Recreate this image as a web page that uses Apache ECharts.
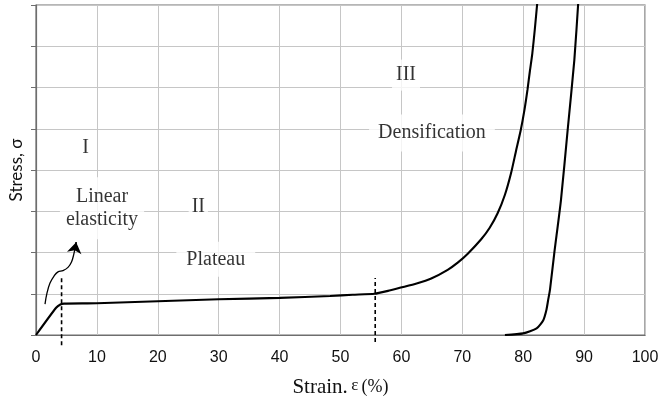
<!DOCTYPE html>
<html>
<head>
<meta charset="utf-8">
<script src="https://cdn.jsdelivr.net/npm/echarts@6/dist/echarts.min.js"></script>
<style>
html,body{margin:0;padding:0;background:#fff;}
#chart{width:662px;height:403px;}
</style>
</head>
<body>
<div id="chart"></div>
<script>
// Strain (%) ticks
const xTicks = [0, 10, 20, 30, 40, 50, 60, 70, 80, 90, 100];
// Loading curve: strain (%), stress (grid units)
const loadStrain = [0, 3.3, 4.0, 4.6, 10, 20, 30, 40, 48.3, 52, 55.6, 57.8, 59.9, 62.5, 64.9, 67.6, 69.3, 70.9, 73.1, 74.5, 75.8, 77.0, 78.0, 78.8, 79.6, 80.2, 80.7, 81.1, 81.5, 81.9, 82.4];
const loadStress = [0, 0.66, 0.74, 0.76, 0.77, 0.82, 0.865, 0.90, 0.945, 0.975, 1.0, 1.07, 1.15, 1.25, 1.37, 1.58, 1.76, 1.97, 2.32, 2.6, 2.95, 3.4, 3.92, 4.45, 4.97, 5.45, 5.94, 6.4, 6.83, 7.4, 8.2];
// Second (dense) curve
const denseStrain = [77.0, 80.0, 82.2, 83.3, 83.8, 84.1, 84.4, 85.1, 86.2, 87.3, 88.4, 89.1];
const denseStress = [0, 0.04, 0.16, 0.36, 0.6, 0.85, 1.1, 1.98, 3.27, 4.97, 6.67, 8.2];
// Region boundaries (dashed)
const boundaryStrain = [4.2, 55.7];
const boundaryLow = [-0.25, -0.17];
const boundaryHigh = [1.45, 1.38];
// Arrow path
const arrowStrain = [1.48, 1.81, 2.30, 2.96, 3.61, 4.43, 5.25, 5.83, 6.21, 6.45, 6.60];
const arrowStress = [0.75, 1.02, 1.26, 1.43, 1.53, 1.56, 1.64, 1.77, 1.96, 2.13, 2.25];
// Annotations
const annText = ['I', 'Linear\nelasticity', 'II', 'Plateau', 'III', 'Densification'];
const annStrain = [8.16, 10.84, 26.65, 29.52, 60.76, 65.02];
const annStress = [4.53, 3.07, 3.10, 1.835, 6.30, 4.90];

const annPadding = [[2,3],[8,6],[3,3],[6,10],[4,4],[7,9]];
const zip = (a, b) => a.map((v, i) => [v, b[i]]);

const chart = echarts.init(document.getElementById('chart'));
const serif = '"Liberation Serif", "DejaVu Serif", serif';
const nArrow = arrowStrain.length;
const series = [
  {
    type: 'scatter',
    data: annText.map((t, i) => ({
      value: [annStrain[i], annStress[i]],
      label: { padding: annPadding[i] }
    })),
    symbol: 'circle', symbolSize: 1,
    itemStyle: { color: 'rgba(0,0,0,0)' },
    z: 3,
    label: {
      show: true, position: 'inside',
      formatter: p => annText[p.dataIndex],
      fontFamily: serif, fontSize: 20, color: '#000',
      lineHeight: 23, align: 'center', verticalAlign: 'middle',
      backgroundColor: '#fff'
    },
    silent: true
  },
  {
    type: 'line', data: zip(loadStrain, loadStress), smooth: 0.2,
    showSymbol: false, lineStyle: { color: '#000', width: 2.1 }, z: 5
  },
  {
    type: 'line', data: zip(denseStrain, denseStress), smooth: 0.2,
    showSymbol: false, lineStyle: { color: '#000', width: 2.1 }, z: 5
  },
  {
    type: 'line', data: zip(arrowStrain, arrowStress), smooth: 0.4,
    showSymbol: false, lineStyle: { color: '#000', width: 1.3 }, z: 5
  },
  {
    type: 'lines', coordinateSystem: 'cartesian2d',
    data: [{ coords: [[arrowStrain[nArrow - 2], arrowStress[nArrow - 2]], [arrowStrain[nArrow - 1], arrowStress[nArrow - 1]]] }],
    symbol: ['none', 'arrow'], symbolSize: [8, 11],
    lineStyle: { color: '#000', width: 1.3, opacity: 1, curveness: 0 }, z: 5
  }
];
boundaryStrain.forEach((s, i) => {
  series.push({
    type: 'line', data: [[s, boundaryLow[i]], [s, boundaryHigh[i]]],
    showSymbol: false, clip: false,
    lineStyle: { color: '#000', width: 1.6, type: [4, 3] }, z: 6
  });
});

chart.setOption({
  animation: false,
  backgroundColor: '#fff',
  grid: { left: 36, right: 17, top: 5, bottom: 68, show: true, borderColor: '#6e6e6e', borderWidth: 1.2 },
  xAxis: {
    type: 'value', min: 0, max: 100, interval: 10,
    axisLine: { show: true, lineStyle: { color: '#6e6e6e', width: 1.2 } },
    axisTick: { show: false },
    splitLine: { show: true, lineStyle: { color: '#c6c6c6', width: 1 } },
    axisLabel: {
      fontFamily: '"Liberation Sans", Arial, sans-serif', fontSize: 16, color: '#111', margin: 15,
      formatter: v => xTicks.includes(v) ? String(v) : ''
    },
    name: '{a|Strain.} {b|ε} {c|(%)}',
    nameLocation: 'middle', nameGap: 42,
    nameTextStyle: {
      rich: {
        a: { fontFamily: serif, fontSize: 21, color: '#111' },
        b: { fontFamily: serif, fontSize: 17, color: '#111', verticalAlign: 'top', padding: [0,0,4,0] },
        c: { fontFamily: serif, fontSize: 18, color: '#111' }
      }
    }
  },
  yAxis: {
    type: 'value', min: 0, max: 8, interval: 1,
    axisLine: { show: true, lineStyle: { color: '#6e6e6e', width: 1.2 } },
    axisTick: { show: true, inside: false, length: 5, lineStyle: { color: '#6e6e6e' } },
    splitLine: { show: true, lineStyle: { color: '#c6c6c6', width: 1 } },
    axisLabel: { show: false },
    name: 'Stress, σ', nameLocation: 'middle', nameGap: 11,
    nameTextStyle: { fontFamily: 'Lato, "Open Sans", sans-serif', fontSize: 17, color: '#111' }
  },
  series: series
});
</script>
</body>
</html>
